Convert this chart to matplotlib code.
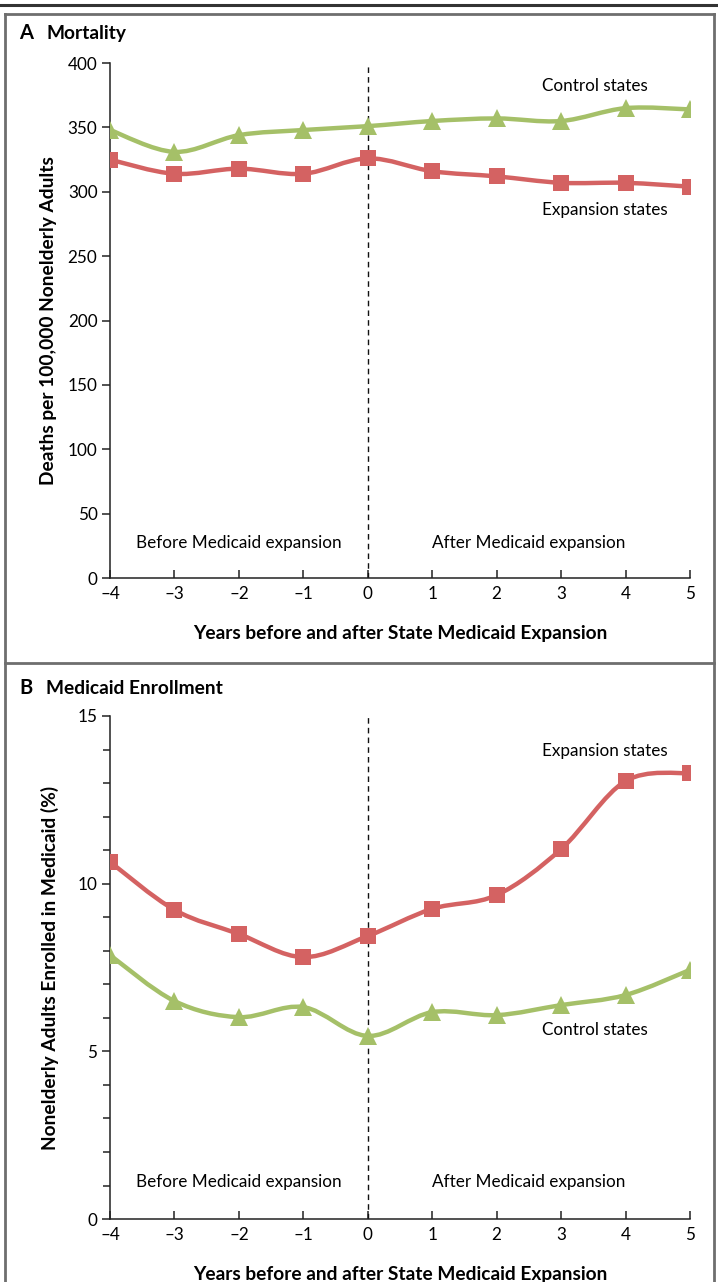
import matplotlib
matplotlib.use("Agg")
import matplotlib.pyplot as plt
import numpy as np
from matplotlib.path import Path
from matplotlib.patches import PathPatch
from matplotlib.lines import Line2D
from matplotlib.ticker import MultipleLocator

plt.rcParams['font.family'] = ['Lato', 'DejaVu Sans']

years = [-4, -3, -2, -1, 0, 1, 2, 3, 4, 5]

# Panel A: deaths per 100,000 nonelderly adults
mort_control = [348, 331, 344, 348, 351, 355, 357, 355, 365, 364]
mort_expansion = [325, 314, 318, 314, 326, 316, 312, 307, 307, 304]

# Panel B: % nonelderly adults enrolled in Medicaid
enroll_expansion = [10.65, 9.22, 8.50, 7.81, 8.44, 9.25, 9.66, 11.03, 13.06, 13.30]
enroll_control = [7.87, 6.50, 6.02, 6.32, 5.46, 6.17, 6.08, 6.38, 6.68, 7.43]

RED = '#d46262'
GREEN = '#a5c068'
GRAY = '#6e6e6e'
TXT = 12.3


def smooth_path(x, y):
    # Catmull-Rom through the points, written as cubic bezier segments
    x = np.asarray(x, float)
    y = np.asarray(y, float)
    px = np.concatenate([[x[0]], x, [x[-1]]])
    py = np.concatenate([[y[0]], y, [y[-1]]])
    verts = [(x[0], y[0])]
    codes = [Path.MOVETO]
    for i in range(1, len(px) - 2):
        c1 = (px[i] + (px[i + 1] - px[i - 1]) / 6, py[i] + (py[i + 1] - py[i - 1]) / 6)
        c2 = (px[i + 1] - (px[i + 2] - px[i]) / 6, py[i + 1] - (py[i + 2] - py[i]) / 6)
        verts += [c1, c2, (px[i + 1], py[i + 1])]
        codes += [Path.CURVE4] * 3
    return Path(verts, codes)


def draw_series(ax, x, y, color, marker, ms):
    ax.add_patch(PathPatch(smooth_path(x, y), facecolor='none', edgecolor=color,
                           lw=3.2, capstyle='round', joinstyle='round', zorder=3))
    ax.plot(x, y, linestyle='none', marker=marker, color=color, ms=ms,
            markeredgewidth=0, zorder=4)


def style_axes(ax):
    ax.spines['top'].set_visible(False)
    ax.spines['right'].set_visible(False)
    for s in ('left', 'bottom'):
        ax.spines[s].set_linewidth(1.1)
        ax.spines[s].set_color('#222222')
    ax.set_xlim(-4, 5)
    ax.set_xticks(years)
    ax.set_xticklabels([str(v).replace('-', '\u2013') for v in years])
    ax.tick_params(axis='x', direction='in', length=6, width=1.1, pad=6, labelsize=TXT,
                   color='#222222')
    ax.tick_params(axis='y', which='both', direction='out', width=1.1, labelsize=TXT,
                   color='#222222', pad=3)
    ax.tick_params(axis='y', which='major', length=6)
    ax.tick_params(axis='y', which='minor', length=5)
    ax.axvline(0, color='#111111', lw=1.0, ls=(0, (4, 3)), zorder=2)
    ax.set_xlabel('Years before and after State Medicaid Expansion', fontsize=13.8,
                  fontweight='bold', labelpad=16)
    for s in ax.spines.values():
        s.set_clip_on(False)


fig = plt.figure(figsize=(7.18, 12.82), dpi=100)

# Panel A
axA = fig.add_axes([0.1532, 0.5491, 0.8078, 0.4017])
style_axes(axA)
axA.set_ylim(0, 400)
axA.yaxis.set_major_locator(MultipleLocator(50))
draw_series(axA, years, mort_control, GREEN, '^', 12.5)
draw_series(axA, years, mort_expansion, RED, 's', 11)
axA.set_ylabel('Deaths per 100,000 Nonelderly Adults', fontsize=13.8, fontweight='bold',
               labelpad=8)
axA.text(2.7, 382, 'Control states', fontsize=TXT, va='center', ha='left')
axA.text(2.7, 286, 'Expansion states', fontsize=TXT, va='center', ha='left')
axA.text(-2, 27, 'Before Medicaid expansion', fontsize=TXT, va='center', ha='center')
axA.text(2.5, 27, 'After Medicaid expansion', fontsize=TXT, va='center', ha='center')

# Panel B
axB = fig.add_axes([0.1532, 0.0491, 0.8078, 0.3924])
style_axes(axB)
axB.set_ylim(0, 15)
axB.yaxis.set_major_locator(MultipleLocator(5))
axB.yaxis.set_minor_locator(MultipleLocator(1))
draw_series(axB, years, enroll_control, GREEN, '^', 12.5)
draw_series(axB, years, enroll_expansion, RED, 's', 11)
axB.set_ylabel('Nonelderly Adults Enrolled in Medicaid (%)', fontsize=13.8, fontweight='bold',
               labelpad=13)
axB.text(2.7, 13.95, 'Expansion states', fontsize=TXT, va='center', ha='left')
axB.text(2.7, 5.65, 'Control states', fontsize=TXT, va='center', ha='left')
axB.text(-2, 1.11, 'Before Medicaid expansion', fontsize=TXT, va='center', ha='center')
axB.text(2.5, 1.11, 'After Medicaid expansion', fontsize=TXT, va='center', ha='center')

# panel titles
fig.text(19 / 718, 1 - 33 / 1282, 'A', fontsize=14.5, fontweight='bold', va='center')
fig.text(46 / 718, 1 - 33 / 1282, 'Mortality', fontsize=13.8, fontweight='bold', va='center')
fig.text(19 / 718, 1 - 688 / 1282, 'B', fontsize=14.5, fontweight='bold', va='center')
fig.text(46 / 718, 1 - 688 / 1282, 'Medicaid Enrollment', fontsize=13.8, fontweight='bold',
         va='center')

# outer frame
W, H = 718.0, 1282.0
fig.add_artist(Line2D([0, 1], [1 - 5 / H, 1 - 5 / H], color='#333333', lw=2.2))
fig.add_artist(Line2D([5 / W, 714 / W], [1 - 14 / H, 1 - 14 / H], color=GRAY, lw=2))
fig.add_artist(Line2D([5 / W, 5 / W], [0, 1 - 14 / H], color=GRAY, lw=2))
fig.add_artist(Line2D([714 / W, 714 / W], [0, 1 - 14 / H], color=GRAY, lw=2))
fig.add_artist(Line2D([5 / W, 714 / W], [1 - 663 / H, 1 - 663 / H], color=GRAY, lw=2))

fig.savefig('out.png', dpi=100)
